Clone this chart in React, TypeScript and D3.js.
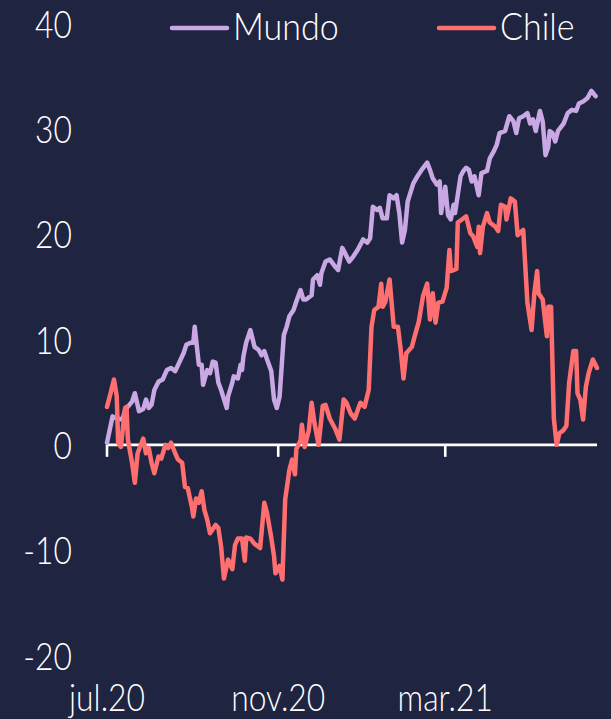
import React from "react";
import * as d3 from "d3";

// days since 1 jul 2020, value (%)
const mundo: [number, number][] = [
  [0, 0.2], [4, 2.7], [7, 2.5], [11, 2.4], [13, 3.3], [18, 4.1], [20, 4.9], [23, 3.2],
  [26, 3.4], [28, 4.3], [30, 3.5], [32, 3.8], [34, 5.2], [37, 6.0], [40, 6.2], [43, 7.1],
  [46, 7.3], [49, 7.0], [55, 8.7], [57, 9.5], [60, 9.7], [62, 9.7], [63, 11.2], [64, 10.0],
  [66, 7.6], [68, 7.6], [69, 5.7], [72, 7.1], [74, 6.8], [76, 7.9], [78, 7.8], [80, 5.9],
  [82, 5.2], [86, 3.5], [87, 4.6], [90, 5.9], [91, 6.5], [94, 6.3], [96, 7.6], [97, 7.1],
  [98, 8.4], [100, 9.7], [103, 10.9], [106, 9.3], [109, 9.0], [111, 8.5], [113, 8.9],
  [115, 8.1], [118, 7.0], [120, 4.3], [122, 3.5], [124, 4.6], [127, 10.4], [129, 11.2],
  [131, 12.2], [134, 12.8], [136, 13.6], [139, 14.7], [141, 13.8], [143, 13.8], [147, 14.2],
  [148, 15.7], [151, 16.1], [153, 15.2], [154, 16.3], [157, 17.4], [160, 17.6], [164, 16.9],
  [166, 16.6], [169, 18.7], [171, 18.2], [174, 17.4], [177, 17.9], [180, 18.5], [184, 19.5],
  [187, 19.2], [189, 19.6], [191, 22.6], [194, 22.3], [196, 22.5], [198, 21.5], [201, 21.5],
  [203, 23.7], [206, 23.4], [208, 23.7], [210, 22.0], [212, 19.2], [214, 20.4], [216, 23.1],
  [220, 24.8], [223, 25.5], [226, 26.1], [230, 26.8], [232, 26.1], [234, 25.3], [237, 24.7],
  [239, 25.0], [240, 22.0], [243, 24.5], [245, 21.8], [247, 21.4], [249, 22.8], [250, 22.0],
  [254, 25.5], [256, 26.0], [258, 26.3], [260, 26.1], [262, 25.0], [264, 25.5], [267, 23.7],
  [269, 25.8], [273, 26.0], [275, 27.2], [278, 27.9], [280, 28.5], [282, 29.6], [286, 29.8],
  [289, 31.2], [292, 30.7], [294, 29.6], [296, 31.0], [299, 31.2], [302, 31.5], [304, 30.5],
  [306, 30.9], [308, 29.8], [311, 31.7], [313, 30.7], [315, 27.5], [317, 28.3], [318, 29.8],
  [320, 29.6], [322, 28.8], [324, 29.8], [328, 30.5], [331, 31.5], [334, 31.8], [337, 31.7],
  [339, 32.4], [342, 32.6], [345, 32.9], [348, 33.6], [351, 33.1],
];

const chile: [number, number][] = [
  [0, 3.6], [2, 4.6], [5, 6.2], [7, 4.6], [8, 0.2], [10, -0.2], [11, 1.1], [13, 3.5],
  [14, 3.6], [15, 0.5], [18, -1.7], [20, -3.6], [22, -0.8], [26, 0.6], [28, -0.8], [30, -0.3],
  [32, -1.7], [34, -2.7], [37, -1.1], [39, -1.3], [42, 0], [44, -0.3], [46, 0.2], [49, -0.8],
  [51, -1.4], [54, -1.7], [56, -4.0], [58, -4.1], [61, -5.9], [62, -6.8], [64, -5.1],
  [66, -5.5], [68, -4.4], [70, -6.2], [72, -7.1], [74, -8.4], [78, -7.6], [80, -7.9],
  [82, -9.7], [84, -12.7], [87, -10.9], [90, -11.8], [92, -9.5], [94, -8.9], [97, -8.9],
  [99, -11.0], [100, -8.8], [103, -8.9], [106, -9.4], [110, -9.8], [113, -5.5], [115, -6.5],
  [118, -8.8], [120, -10.6], [121, -12.2], [124, -11.5], [126, -12.8], [128, -5.2],
  [131, -2.4], [133, -1.4], [135, -2.8], [136, -0.4], [139, 0.4], [140, 1.9], [142, -0.2],
  [145, 1.4], [147, 4.0], [149, 2.1], [152, 0], [155, 3.7], [157, 3.8], [160, 2.5],
  [164, 1.5], [167, 0.5], [170, 4.3], [172, 4.0], [175, 3.0], [178, 2.5], [182, 4.0],
  [185, 3.6], [188, 5.2], [190, 11.2], [192, 12.8], [195, 13.1], [197, 15.3], [198, 13.1],
  [200, 13.6], [203, 15.7], [206, 11.2], [209, 11.2], [211, 9.0], [213, 6.3], [215, 8.7],
  [219, 9.3], [221, 10.3], [224, 11.7], [227, 14.1], [230, 15.3], [232, 11.9], [234, 14.4],
  [236, 11.6], [238, 13.5], [241, 13.6], [244, 14.9], [246, 18.5], [247, 16.5], [251, 16.7],
  [252, 21.1], [255, 21.4], [258, 21.7], [261, 20.1], [263, 19.8], [266, 18.8], [267, 20.7],
  [268, 18.2], [270, 20.7], [273, 22.0], [275, 21.1], [279, 20.7], [281, 20.3], [283, 22.8],
  [286, 22.6], [287, 21.4], [290, 23.4], [293, 23.1], [295, 19.9], [299, 20.4], [302, 13.5],
  [305, 10.9], [307, 14.4], [309, 16.5], [310, 14.4], [313, 13.8], [316, 10.3], [317, 13.1],
  [319, 13.1], [321, 2.5], [323, 0], [325, 1.1], [328, 1.4], [330, 1.8], [332, 5.9],
  [335, 8.9], [337, 8.9], [338, 4.9], [340, 4.3], [342, 2.4], [344, 5.5], [346, 6.8],
  [349, 8.1], [352, 7.3],
];

const xTickDates = ["2020-07-01", "2020-11-01", "2021-03-01"];
const xTickLabels = ["jul.20", "nov.20", "mar.21"];
const yTicks = [40, 30, 20, 10, 0, -10, -20];
const seriesNames = ["Mundo", "Chile"];

const BG = "#1f2440";
const COLORS = ["#c9a8e4", "#ff6f6f"];
const FONT = "Lato, 'Open Sans', sans-serif";
const SQUEEZE = 0.86;

const W = 611;
const H = 719;

export default function App() {
  const start = new Date(2020, 6, 1);
  const x = d3
    .scaleTime()
    .domain([start, d3.timeDay.offset(start, 352)])
    .range([107, 597]);
  const y = d3.scaleLinear().domain([-20, 40]).range([655.5, 23.5]);

  const line = d3
    .line<[number, number]>()
    .x((d) => x(d3.timeDay.offset(start, d[0])))
    .y((d) => y(d[1]));

  const txt = (
    key: string,
    tx: number,
    ty: number,
    s: string,
    anchor: "start" | "middle" | "end",
    sx = SQUEEZE
  ) => (
    <text
      key={key}
      transform={`translate(${tx},${ty}) scale(${sx},1)`}
      textAnchor={anchor}
      fill="#ffffff"
      fontFamily={FONT}
      fontWeight={300}
      fontSize={37}
    >
      {s}
    </text>
  );

  const legendX = [172, 439];

  return (
    <svg
      width={W}
      height={H}
      style={{ position: "fixed", left: 0, top: 0, display: "block" }}
    >
      <rect width={W} height={H} fill={BG} />

      {/* y labels */}
      {yTicks.map((v) => txt(`y${v}`, 72, y(v) + 14, String(v), "end"))}

      {/* zero axis with month ticks */}
      <line x1={x.range()[0]} x2={x.range()[1]} y1={y(0)} y2={y(0)} stroke="#fff" strokeWidth={2.6} />
      {xTickDates.map((d, i) => {
        const px = x(d3.timeParse("%Y-%m-%d")(d) as Date);
        return (
          <g key={d}>
            <line x1={px} x2={px} y1={y(0)} y2={y(0) + 12} stroke="#fff" strokeWidth={2.6} />
            {txt(`x${i}`, px, 711, xTickLabels[i], "middle")}
          </g>
        );
      })}

      {/* series */}
      {[mundo, chile].map((s, i) => (
        <path
          key={seriesNames[i]}
          d={line(s) || ""}
          fill="none"
          stroke={COLORS[i]}
          strokeWidth={4.5}
          strokeLinejoin="round"
          strokeLinecap="round"
        />
      ))}

      {/* legend */}
      {seriesNames.map((n, i) => (
        <g key={n}>
          <line
            x1={legendX[i]}
            x2={legendX[i] + 55}
            y1={28}
            y2={28}
            stroke={COLORS[i]}
            strokeWidth={4.5}
            strokeLinecap="round"
          />
          {txt(`l${i}`, legendX[i] + 61, 40, n, "start", 0.92)}
        </g>
      ))}
    </svg>
  );
}
